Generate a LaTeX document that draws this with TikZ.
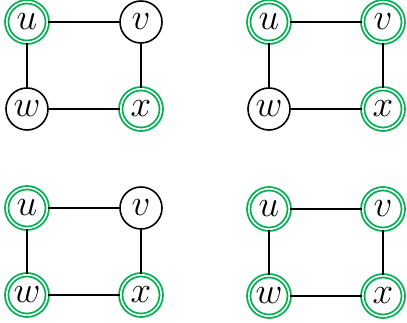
\documentclass[tikz,border=0pt]{standalone}
\usepackage{fix-cm}
\definecolor{grn}{RGB}{0,176,80}
\tikzset{
  plain/.style={circle,draw=black,line width=1.6pt,minimum size=42pt,inner sep=0pt,fill=white,
    font=\fontsize{37}{37}\selectfont},
  chosen/.style={circle,draw=grn,line width=1.8pt,double=white,double distance=1.6pt,minimum size=40.5pt,inner sep=0pt,
    font=\fontsize{37}{37}\selectfont},
  edge/.style={line width=2.3pt,black}
}
\begin{document}
\begin{tikzpicture}[x=1pt,y=-1pt]
\useasboundingbox (0,0) rectangle (407,323);
\newcommand\panel[6]{%
  \begin{scope}[shift={(#1,#2)}]
    \node[#3] (u#1#2) at (0,0) {$u$};
    \node[#4] (v#1#2) at (114,0) {$v$};
    \node[#5] (w#1#2) at (0,87) {$w$};
    \node[#6] (x#1#2) at (114,87) {$x$};
    \draw[edge] (u#1#2) -- (v#1#2);
    \draw[edge] (u#1#2) -- (w#1#2);
    \draw[edge] (v#1#2) -- (x#1#2);
    \draw[edge] (w#1#2) -- (x#1#2);
  \end{scope}}
\panel{27}{22}{chosen}{plain}{plain}{chosen}
\panel{269}{22}{chosen}{chosen}{plain}{chosen}
\panel{27}{208}{chosen}{plain}{chosen}{chosen}
\panel{269}{209}{chosen}{chosen}{chosen}{chosen}
\end{tikzpicture}
\end{document}
